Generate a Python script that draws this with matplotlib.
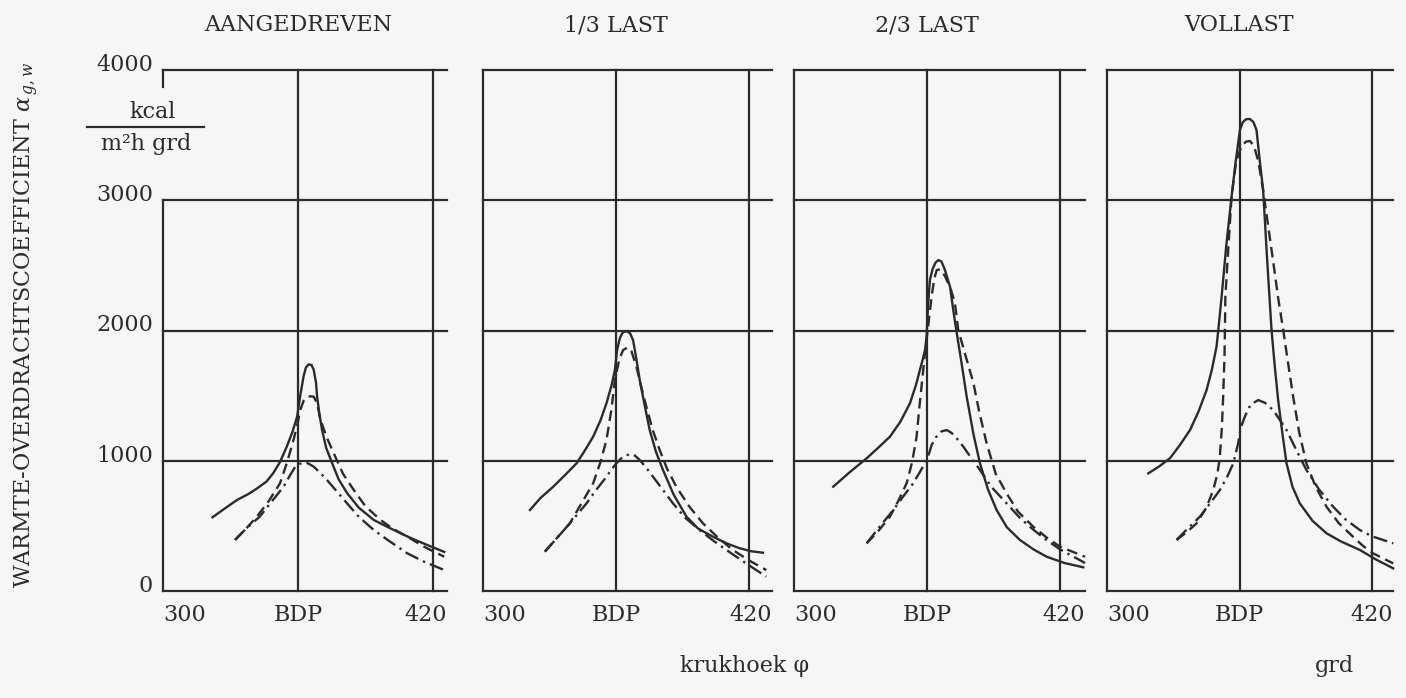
# warmte-overdrachtscoefficient vs krukhoek, vier belastingen
import matplotlib
matplotlib.use("Agg")
import matplotlib.pyplot as plt
from matplotlib.lines import Line2D

plt.rcParams['font.family'] = ['DejaVu Serif']
plt.rcParams['mathtext.fontset'] = 'dejavuserif'

# --- data ---
panel_titles = ['AANGEDREVEN', '1/3 LAST', '2/3 LAST', 'VOLLAST']
xtick_pos = [300, 360, 420]
xtick_labels = ['300', 'BDP', '420']
ytick_pos = [0, 1000, 2000, 3000, 4000]
ytick_labels = ['0', '1000', '2000', '3000', '4000']

# AANGEDREVEN
aang_solid_x = [322, 328, 333, 338, 342, 346, 349, 352, 355, 357.5, 359.6, 361, 362.5, 363.5, 364.7,
                366, 367, 368, 368.5, 369.5, 370.7, 372.5, 375.2, 378, 381.8, 387, 393.7, 400, 405.6,
                411, 417.5, 425]
aang_solid_y = [566, 640, 700, 745, 790, 840, 905, 990, 1108, 1220, 1338, 1500, 1650, 1715, 1740,
                1735, 1697, 1600, 1492, 1360, 1236, 1100, 980, 860, 752, 640, 545, 490, 443,
                400, 353, 300]
aang_dash_x = [332, 337, 341.7, 347, 352, 355, 358, 360, 361, 362.5, 364, 365.5, 367, 368.5, 370,
               373, 375.9, 380, 384.8, 390, 396.7, 402, 408.6, 416, 425]
aang_dash_y = [392, 480, 571, 690, 827, 980, 1159, 1300, 1390, 1460, 1490, 1495, 1492, 1440, 1313,
               1170, 1057, 900, 775, 650, 545, 480, 417, 340, 263]
aang_dd_x = [332, 337, 343, 348, 353.6, 356.5, 358.8, 360.5, 362.5, 364.5, 367, 370, 372.9, 377,
             381.8, 387, 393.7, 400, 408.6, 416, 425]
aang_dd_y = [392, 480, 571, 680, 801, 890, 954, 975, 985, 980, 954, 905, 852, 770,
             673, 570, 468, 390, 289, 225, 161]

# 1/3 LAST
last13_solid_x = [321.2, 326, 331.7, 337, 342.2, 346, 349.7, 353, 355.7, 358, 359.5, 360.5, 361.7,
                  363, 364.7, 366.3, 367.7, 369.2, 370.7, 373, 375.2, 378, 381.2, 386, 391.8, 397,
                  403.7, 410, 415.8, 421, 426.3]
last13_solid_y = [622, 715, 801, 890, 980, 1080, 1185, 1310, 1441, 1580, 1697, 1850, 1940,
                  1985, 1995, 1980, 1927, 1780, 1620, 1420, 1236, 1070, 929, 740, 571, 480,
                  417, 365, 328, 305, 294]
last13_dash_x = [327.9, 333, 339.2, 344, 349.7, 353, 355.7, 358, 359.5, 361.5, 363.2, 365.3, 367,
                 369.2, 371.5, 373.7, 376.5, 379.7, 383, 387.2, 393, 399.2, 406, 412.7, 420, 427.8]
last13_dash_y = [302, 400, 520, 660, 827, 990, 1159, 1400, 1620, 1780, 1850, 1870, 1840,
                 1722, 1560, 1415, 1240, 1083, 940, 801, 650, 520, 410, 315, 235, 161]
last13_dd_x = [327.9, 333, 339.2, 346.7, 351, 355.7, 358, 360.2, 363, 366.2, 368.5, 370.7, 373.5,
               376.7, 381, 385.7, 391, 397.7, 404, 409.8, 418, 427.8]
last13_dd_y = [302, 400, 520, 673, 775, 877, 935, 980, 1030, 1051, 1040, 1006, 950,
               877, 780, 673, 565, 468, 385, 315, 220, 110]

# 2/3 LAST
last23_solid_x = [317.7, 325, 332.8, 338, 343.3, 348, 352.3, 355, 356.8, 358, 359.1, 359.8, 360.5,
                  361.3, 362.5, 363.8, 365.1, 366.5, 368, 370.4, 371.9, 373.2, 375.5, 377.9, 381,
                  383.9, 387.5, 391.4, 396, 401.9, 408, 414, 422, 430.5]
last23_solid_y = [801, 910, 1019, 1100, 1185, 1300, 1441, 1580, 1697, 1773, 1850, 1950, 2200,
                  2388, 2470, 2520, 2541, 2530, 2470, 2336, 2150, 2004, 1760, 1492, 1200,
                  980, 780, 622, 490, 392, 320, 263, 215, 182]
last23_dash_x = [332.8, 338, 343.3, 347, 350.8, 353.3, 355.3, 356.5, 358.3, 359.1, 360.3, 362,
                 363.3, 364.4, 366, 368, 370.5, 372.6, 374.1, 377.5, 380.9, 383.5, 386.9, 391,
                 395.9, 401, 407.9, 414, 420, 431.3]
last23_dash_y = [366, 460, 571, 690, 827, 990, 1185, 1400, 1697, 1825, 2000, 2250,
                 2400, 2464, 2470, 2420, 2330, 2211, 2004, 1800, 1600, 1380, 1134, 900,
                 750, 610, 494, 410, 340, 263]
last23_dd_x = [332.8, 338, 344.8, 349, 353.8, 357, 359.9, 361, 362.1, 364, 366.5, 368.9, 371,
               373.5, 376.4, 380, 383.9, 389, 395.9, 402, 408, 414, 420, 431.3]
last23_dd_y = [366, 480, 622, 720, 827, 920, 1006, 1060, 1121, 1180, 1225, 1236, 1215,
               1170, 1108, 1020, 929, 800, 673, 560, 470, 390, 320, 215]

# VOLLAST
vol_solid_x = [318.7, 323.5, 328.5, 333, 337.6, 341.5, 345.1, 347.5, 349.6, 350.4, 351.9, 354,
               356.4, 358.3, 360.2, 361.5, 363, 364.7, 366.3, 367.7, 369.2, 370.7, 372.5, 374.5,
               376, 377.5, 379.5, 381.3, 384, 387.3, 393, 399.4, 406, 414.5, 422, 429.6]
vol_solid_y = [903, 955, 1019, 1120, 1236, 1380, 1543, 1700, 1876, 2004, 2260, 2650,
               3027, 3300, 3540, 3600, 3622, 3624, 3600, 3540, 3300, 3079, 2550, 2004,
               1720, 1466, 1200, 980, 800, 673, 540, 443, 380, 315, 240, 174]
vol_dash_x = [331.5, 336, 340.6, 345, 348.1, 350, 351.1, 352, 352.6, 353.2, 353.4, 353.6, 355,
              356.4, 358.5, 361, 363, 364.7, 366.5, 368.5, 370.7, 373, 375.5, 377.5, 379.8, 382,
              384.3, 387, 390.3, 394.5, 399.4, 405, 411.4, 416, 420.5, 429.6]
vol_dash_y = [392, 450, 520, 640, 775, 900, 1031, 1250, 1492, 1800, 2004, 2260, 2650,
              3027, 3300, 3420, 3450, 3455, 3420, 3300, 3079, 2800, 2500, 2250, 2004, 1750,
              1492, 1220, 980, 800, 647, 520, 417, 345, 289, 212]
vol_dd_x = [331.5, 336, 342.1, 347, 351.1, 354.5, 357.2, 359.4, 360.5, 362.4, 365, 368.5, 371.5,
            375.2, 378, 381.3, 385.5, 390.3, 396, 402.4, 408, 414.5, 420, 429.6]
vol_dd_y = [392, 470, 571, 680, 775, 880, 980, 1134, 1250, 1338, 1430, 1466, 1445,
            1390, 1320, 1236, 1090, 929, 780, 647, 550, 468, 420, 366]

panels = [
    [(aang_solid_x, aang_solid_y), (aang_dash_x, aang_dash_y), (aang_dd_x, aang_dd_y)],
    [(last13_solid_x, last13_solid_y), (last13_dash_x, last13_dash_y), (last13_dd_x, last13_dd_y)],
    [(last23_solid_x, last23_solid_y), (last23_dash_x, last23_dash_y), (last23_dd_x, last23_dd_y)],
    [(vol_solid_x, vol_solid_y), (vol_dash_x, vol_dash_y), (vol_dd_x, vol_dd_y)],
]

# --- layout (pixels of the 1406x698 scan) ---
W, H = 1406, 698
ink = '#2b2b2b'
bg = '#f6f6f6'
fs = 16
left_px = [163, 483, 794, 1107]
right_px = [447, 772, 1085, 1393]
x420_px = [433, 749, 1060, 1372]
top_px, bottom_px = 70, 591

styles = [dict(linestyle='-'),
          dict(linestyle=(0, (4.5, 2.5))),
          dict(linestyle=(0, (6, 2.2, 1, 2.2)))]


def fx(px):
    return px / W


def fy(py):
    return 1 - py / H


fig = plt.figure(figsize=(W / 100, H / 100), dpi=100, facecolor=bg)

for i, series in enumerate(panels):
    l, r = left_px[i], right_px[i]
    scale = (x420_px[i] - l) / 120.0
    xmax = 300 + (r - l) / scale
    ax = fig.add_axes([fx(l), fy(bottom_px), (r - l) / W, (bottom_px - top_px) / H])
    ax.set_xlim(300, xmax)
    ax.set_ylim(0, 4000)
    ax.axis('off')
    ax.patch.set_alpha(0)

    # grid frame
    for yv in ytick_pos:
        ax.axhline(yv, color=ink, lw=1.6, clip_on=False)
    for xv in xtick_pos[1:]:
        ax.axvline(xv, color=ink, lw=1.6, clip_on=False)
    if i == 0:
        ax.plot([300, 300], [0, 3000], color=ink, lw=1.6, clip_on=False)
        ax.plot([300, 300], [3870, 4000], color=ink, lw=1.6, clip_on=False)
    else:
        ax.axvline(300, color=ink, lw=1.6, clip_on=False)

    for (xs, ys), st in zip(series, styles):
        ax.plot(xs, ys, color=ink, lw=1.7, clip_on=False, **st)

    # tick labels under the panel
    ax.text(300, -185, xtick_labels[0], ha='left', va='center', fontsize=fs, color=ink)
    ax.text(xtick_pos[1], -185, xtick_labels[1], ha='center', va='center', fontsize=fs, color=ink)
    ax.text(xmax, -185, xtick_labels[2], ha='right', va='center', fontsize=fs, color=ink)

    # panel title
    fig.text(fx(l + 60 * scale), fy(25), panel_titles[i], ha='center', va='center',
             fontsize=fs, color=ink)

    if i == 0:
        for yv, lab in zip(ytick_pos, ytick_labels):
            ax.text(-10 / scale + 300, yv + 40, lab, ha='right', va='center',
                    fontsize=fs, color=ink)

# y axis label
fig.text(fx(27), fy(325), r'WARMTE-OVERDRACHTSCOEFFICIENT $\alpha_{\,g,w}$', rotation=90,
         ha='center', va='center', fontsize=fs, color=ink)

# unit as a fraction
fig.text(fx(153), fy(112), 'kcal', ha='center', va='center', fontsize=fs, color=ink)
fig.add_artist(Line2D([fx(87), fx(204)], [fy(127), fy(127)], color=ink, lw=1.6))
fig.text(fx(146), fy(144), 'm²h grd', ha='center', va='center', fontsize=fs, color=ink)

# x axis label
fig.text(fx(745), fy(666), 'krukhoek φ', ha='center', va='center', fontsize=fs, color=ink)
fig.text(fx(1334), fy(666), 'grd', ha='center', va='center', fontsize=fs, color=ink)

fig.savefig('out.png', dpi=100, facecolor=bg)
